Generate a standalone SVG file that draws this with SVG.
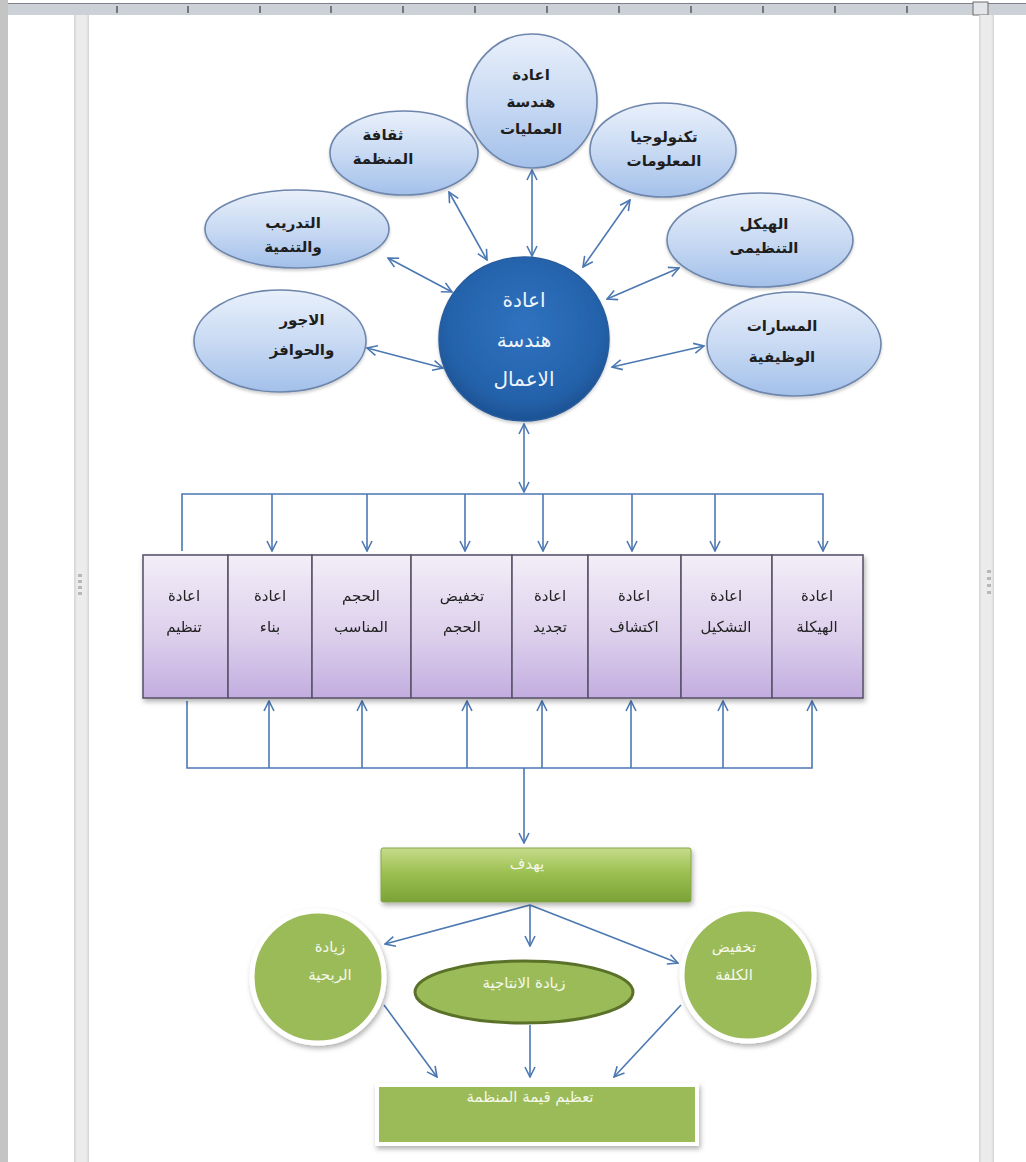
<svg xmlns="http://www.w3.org/2000/svg" width="1026" height="1162" viewBox="0 0 1026 1162">
  <style>
    .t { font-family: "DejaVu Sans", "Noto Sans", sans-serif; text-anchor: middle; }
    .blk { fill: #1e1e1e; font-size: 15px; font-weight: bold; }
    .box { fill: #222222; font-size: 15px; }
    .wht { fill: #eef4fb; font-size: 20px; }
    .grn { fill: #f4f8ea; font-size: 15px; }
    .bubble { fill: url(#gBubble); stroke: #6e86ac; stroke-width: 1.6; filter: url(#soft); }
    .cell { fill: url(#gCell); stroke: #5c566c; stroke-width: 1.6; }
    .wire { fill: none; stroke: #4c78b2; stroke-width: 1.6; }
    .arr { marker-end: url(#ah); }
    .dbl { marker-start: url(#ah); marker-end: url(#ah); }
    .tick { stroke: #3a3a3a; stroke-width: 1.2; }
  </style>
  <defs>
    <linearGradient id="gBubble" x1="0" y1="0" x2="0" y2="1">
      <stop offset="0" stop-color="#e9f0fb"/>
      <stop offset="0.5" stop-color="#c9daf3"/>
      <stop offset="1" stop-color="#a3c0ea"/>
    </linearGradient>
    <radialGradient id="gCore" cx="0.5" cy="0.42" r="0.6">
      <stop offset="0" stop-color="#2f72bf"/>
      <stop offset="0.75" stop-color="#2462ab"/>
      <stop offset="1" stop-color="#1c4f8f"/>
    </radialGradient>
    <linearGradient id="gCell" x1="0" y1="0" x2="0" y2="1">
      <stop offset="0" stop-color="#f3eef8"/>
      <stop offset="0.55" stop-color="#ddd0ec"/>
      <stop offset="1" stop-color="#c3ade0"/>
    </linearGradient>
    <linearGradient id="gBar" x1="0" y1="0" x2="0" y2="1">
      <stop offset="0" stop-color="#c6dc8c"/>
      <stop offset="0.45" stop-color="#9dc052"/>
      <stop offset="1" stop-color="#7aa236"/>
    </linearGradient>
    <linearGradient id="gRail" x1="0" y1="0" x2="1" y2="0">
      <stop offset="0" stop-color="#d4d4d4"/>
      <stop offset="0.2" stop-color="#ececec"/>
      <stop offset="0.8" stop-color="#ececec"/>
      <stop offset="1" stop-color="#d4d4d4"/>
    </linearGradient>
    <filter id="soft" x="-10%" y="-10%" width="120%" height="130%">
      <feDropShadow dx="0" dy="2" stdDeviation="1.5" flood-color="#000" flood-opacity="0.2"/>
    </filter>
    <filter id="shade" x="-10%" y="-10%" width="125%" height="130%">
      <feDropShadow dx="1.5" dy="3" stdDeviation="2.5" flood-color="#000" flood-opacity="0.3"/>
    </filter>
    <marker id="ah" viewBox="0 0 12 12" refX="11" refY="6" markerWidth="12" markerHeight="12" markerUnits="userSpaceOnUse" orient="auto-start-reverse">
      <path d="M1,1 L11,6 L1,11" fill="none" stroke="#4c78b2" stroke-width="1.6"/>
    </marker>
  </defs>

  <!-- window frame: ruler and page rails -->
  <g id="frame">
    <rect x="0" y="0" width="1026" height="1162" fill="#ffffff"/>
    <rect x="0" y="0" width="8" height="1162" fill="#c4c4c4"/>
    <rect x="8" y="3" width="1018" height="12" fill="#ccd1d7"/>
    <line x1="8" y1="3.5" x2="1026" y2="3.5" stroke="#7d8288" stroke-width="1.2"/>
    <g class="tick">
      <line x1="117" y1="6" x2="117" y2="13"/><line x1="188" y1="6" x2="188" y2="13"/>
      <line x1="260" y1="6" x2="260" y2="13"/><line x1="331" y1="6" x2="331" y2="13"/>
      <line x1="403" y1="6" x2="403" y2="13"/><line x1="475" y1="6" x2="475" y2="13"/>
      <line x1="547" y1="6" x2="547" y2="13"/><line x1="619" y1="6" x2="619" y2="13"/>
      <line x1="691" y1="6" x2="691" y2="13"/><line x1="763" y1="6" x2="763" y2="13"/>
      <line x1="835" y1="6" x2="835" y2="13"/><line x1="907" y1="6" x2="907" y2="13"/>
    </g>
    <rect x="973" y="2" width="15" height="13" fill="#e2e4e7" stroke="#6c6c6c" stroke-width="1"/>
    <rect x="74" y="15" width="15" height="1147" fill="url(#gRail)"/>
    <rect x="979" y="15" width="15" height="1147" fill="url(#gRail)"/>
    <g fill="#b8b8b8">
      <rect x="78" y="574" width="4" height="3"/><rect x="78" y="580" width="4" height="3"/>
      <rect x="78" y="586" width="4" height="3"/><rect x="78" y="592" width="4" height="3"/>
      <rect x="987" y="570" width="4" height="3"/><rect x="987" y="577" width="4" height="3"/>
      <rect x="987" y="584" width="4" height="3"/><rect x="987" y="591" width="4" height="3"/>
    </g>
  </g>

  <!-- connectors -->
  <g id="connectors" class="wire">
    <line class="dbl" x1="532" y1="170" x2="532" y2="256"/>
    <line class="dbl" x1="449" y1="192" x2="487" y2="260"/>
    <line class="dbl" x1="388" y1="258" x2="452" y2="292"/>
    <line class="dbl" x1="630" y1="200" x2="583" y2="267"/>
    <line class="dbl" x1="679" y1="268" x2="607" y2="299"/>
    <line class="dbl" x1="367" y1="348" x2="443" y2="368"/>
    <line class="dbl" x1="704" y1="346" x2="612" y2="367"/>
    <line class="dbl" x1="524" y1="424" x2="524" y2="492"/>

    <polyline points="182,551 182,494 823,494 823,551" class="arr"/>
    <line class="arr" x1="272" y1="494" x2="272" y2="551"/>
    <line class="arr" x1="367" y1="494" x2="367" y2="551"/>
    <line class="arr" x1="465" y1="494" x2="465" y2="551"/>
    <line class="arr" x1="543" y1="494" x2="543" y2="551"/>
    <line class="arr" x1="632" y1="494" x2="632" y2="551"/>
    <line class="arr" x1="715" y1="494" x2="715" y2="551"/>

    <polyline points="187,701 187,768 812,768 812,701" class="arr"/>
    <line class="arr" x1="269" y1="768" x2="269" y2="701"/>
    <line class="arr" x1="362" y1="768" x2="362" y2="701"/>
    <line class="arr" x1="467" y1="768" x2="467" y2="701"/>
    <line class="arr" x1="542" y1="768" x2="542" y2="701"/>
    <line class="arr" x1="631" y1="768" x2="631" y2="701"/>
    <line class="arr" x1="723" y1="768" x2="723" y2="701"/>
    <line class="arr" x1="524" y1="768" x2="524" y2="843"/>

    <line class="arr" x1="530" y1="905" x2="385" y2="944"/>
    <line class="arr" x1="530" y1="905" x2="530" y2="946"/>
    <line class="arr" x1="530" y1="905" x2="678" y2="963"/>
    <line class="arr" x1="384" y1="1005" x2="437" y2="1077"/>
    <line class="arr" x1="530" y1="1025" x2="530" y2="1077"/>
    <line class="arr" x1="681" y1="1005" x2="614" y2="1077"/>
  </g>

  <!-- satellite topics -->
  <g id="n-processes">
    <ellipse class="bubble" cx="532" cy="101" rx="65" ry="67"/>
    <text class="t blk" x="531" y="80">اعادة</text>
    <text class="t blk" x="531" y="107">هندسة</text>
    <text class="t blk" x="531" y="134">العمليات</text>
  </g>
  <g id="n-culture">
    <ellipse class="bubble" cx="404" cy="153" rx="74" ry="42"/>
    <text class="t blk" x="383" y="140">ثقافة</text>
    <text class="t blk" x="383" y="164">المنظمة</text>
  </g>
  <g id="n-training">
    <ellipse class="bubble" cx="297" cy="229" rx="92" ry="39"/>
    <text class="t blk" x="293" y="228">التدريب</text>
    <text class="t blk" x="293" y="252">والتنمية</text>
  </g>
  <g id="n-it">
    <ellipse class="bubble" cx="663" cy="150" rx="73" ry="47"/>
    <text class="t blk" x="664" y="142">تكنولوجيا</text>
    <text class="t blk" x="664" y="166">المعلومات</text>
  </g>
  <g id="n-structure">
    <ellipse class="bubble" cx="760" cy="240" rx="93" ry="47"/>
    <text class="t blk" x="764" y="229">الهيكل</text>
    <text class="t blk" x="764" y="253">التنظيمى</text>
  </g>
  <g id="n-pay">
    <ellipse class="bubble" cx="280" cy="341" rx="86" ry="51"/>
    <text class="t blk" x="302" y="325">الاجور</text>
    <text class="t blk" x="302" y="355">والحوافز</text>
  </g>
  <g id="n-careers">
    <ellipse class="bubble" cx="794" cy="344" rx="87" ry="52"/>
    <text class="t blk" x="782" y="331">المسارات</text>
    <text class="t blk" x="782" y="362">الوظيفية</text>
  </g>

  <!-- hub -->
  <g id="n-core">
    <ellipse cx="524" cy="339" rx="85" ry="82" fill="url(#gCore)" stroke="#2a5d9c" stroke-width="1.5" filter="url(#soft)"/>
    <text class="t wht" x="524" y="307">اعادة</text>
    <text class="t wht" x="524" y="347">هندسة</text>
    <text class="t wht" x="524" y="386">الاعمال</text>
  </g>

  <!-- row of approaches -->
  <g id="n-row" filter="url(#shade)">
    <g id="n-reorg">
      <rect class="cell" x="143" y="555" width="85" height="143"/>
      <text class="t box" x="184" y="601">اعادة</text>
      <text class="t box" x="184" y="632">تنظيم</text>
    </g>
    <g id="n-rebuild">
      <rect class="cell" x="228" y="555" width="84" height="143"/>
      <text class="t box" x="270" y="601">اعادة</text>
      <text class="t box" x="270" y="632">بناء</text>
    </g>
    <g id="n-rightsize">
      <rect class="cell" x="312" y="555" width="99" height="143"/>
      <text class="t box" x="361" y="601">الحجم</text>
      <text class="t box" x="361" y="632">المناسب</text>
    </g>
    <g id="n-downsize">
      <rect class="cell" x="411" y="555" width="101" height="143"/>
      <text class="t box" x="462" y="601">تخفيض</text>
      <text class="t box" x="462" y="632">الحجم</text>
    </g>
    <g id="n-renew">
      <rect class="cell" x="512" y="555" width="76" height="143"/>
      <text class="t box" x="550" y="601">اعادة</text>
      <text class="t box" x="550" y="632">تجديد</text>
    </g>
    <g id="n-rediscover">
      <rect class="cell" x="588" y="555" width="93" height="143"/>
      <text class="t box" x="634" y="601">اعادة</text>
      <text class="t box" x="634" y="632">اكتشاف</text>
    </g>
    <g id="n-reshape">
      <rect class="cell" x="681" y="555" width="91" height="143"/>
      <text class="t box" x="726" y="601">اعادة</text>
      <text class="t box" x="726" y="632">التشكيل</text>
    </g>
    <g id="n-restructure">
      <rect class="cell" x="772" y="555" width="91" height="143"/>
      <text class="t box" x="817" y="601">اعادة</text>
      <text class="t box" x="817" y="632">الهيكلة</text>
    </g>
  </g>

  <!-- goals -->
  <g id="n-aim">
    <rect x="381" y="848" width="310" height="54" rx="2" fill="url(#gBar)" stroke="#86a64a" stroke-width="1" filter="url(#shade)"/>
    <text class="t grn" x="527" y="869">يهدف</text>
  </g>
  <g id="n-profit">
    <circle cx="318" cy="977" r="66" fill="#9bbb59" stroke="#ffffff" stroke-width="5" filter="url(#shade)"/>
    <text class="t grn" x="330" y="952">زيادة</text>
    <text class="t grn" x="330" y="980">الربحية</text>
  </g>
  <g id="n-productivity">
    <ellipse cx="524" cy="992" rx="109" ry="31" fill="#9bbb59" stroke="#5a7129" stroke-width="3"/>
    <text class="t grn" x="524" y="988">زيادة الانتاجية</text>
  </g>
  <g id="n-cost">
    <circle cx="748" cy="975" r="66" fill="#9bbb59" stroke="#ffffff" stroke-width="5" filter="url(#shade)"/>
    <text class="t grn" x="734" y="952">تخفيض</text>
    <text class="t grn" x="734" y="980">الكلفة</text>
  </g>
  <g id="n-value">
    <rect x="377" y="1085" width="320" height="59" fill="#9bbb59" stroke="#ffffff" stroke-width="4" filter="url(#shade)"/>
    <text class="t grn" x="530" y="1102">تعظيم قيمة المنظمة</text>
  </g>
</svg>
